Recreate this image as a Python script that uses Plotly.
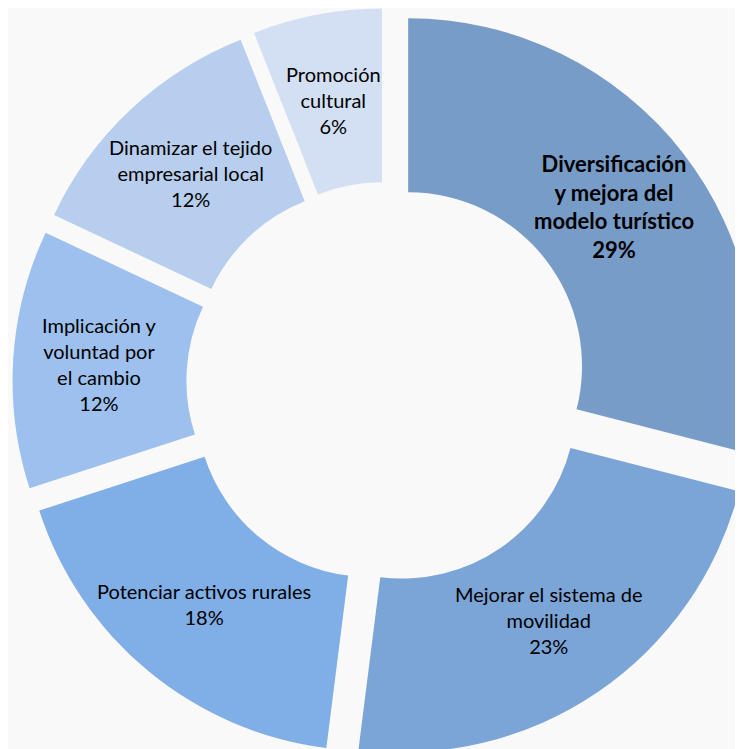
import numpy as np
import plotly.graph_objects as go

labels = [
    "Diversificación y mejora del modelo turístico",
    "Mejorar el sistema de movilidad",
    "Potenciar activos rurales",
    "Implicación y voluntad por el cambio",
    "Dinamizar el tejido empresarial local",
    "Promoción cultural",
]
label_lines = [
    "Diversificación<br>y mejora del<br>modelo turístico",
    "Mejorar el sistema de<br>movilidad",
    "Potenciar activos rurales",
    "Implicación y<br>voluntad por<br>el cambio",
    "Dinamizar el tejido<br>empresarial local",
    "Promoción<br>cultural",
]
values = [29, 23, 18, 12, 12, 6]
colors = ["#779CC8", "#7BA4D7", "#80AEE7", "#9DC0EE", "#B8CEEE", "#D3E0F4"]

# geometry of the layout
W, H = 760, 760
M = dict(l=4, r=6, t=0, b=11)
HOLE, PULL = 0.5, 0.077
pw, ph = W - M["l"] - M["r"], H - M["t"] - M["b"]
R = min(pw, ph) / 2 / (1 + PULL)
r_text = R * (1 + HOLE) / 2 + R * PULL

fig = go.Figure(go.Pie(
    labels=labels,
    values=values,
    textinfo="none",
    marker=dict(colors=colors, line=dict(width=0)),
    hole=HOLE,
    pull=PULL,
    sort=False,
    direction="clockwise",
    rotation=0,
    showlegend=False,
    hoverinfo="label+percent",
))

# slice labels at the middle of each (pulled) ring section
total = sum(values)
cum = np.cumsum([0] + values)
for i, (txt, v) in enumerate(zip(label_lines, values)):
    theta = 2 * np.pi * (cum[i] + v / 2) / total
    pct = f"{round(100 * v / total)}%"
    text = f"{txt}<br>{pct}"
    bold = i == 0
    if bold:
        text = f"<b>{text}</b>"
    fig.add_annotation(
        x=0.5 + r_text * np.sin(theta) / pw,
        y=0.5 + r_text * np.cos(theta) / ph,
        xref="paper", yref="paper",
        xanchor="center", yanchor="middle",
        text=text,
        showarrow=False,
        align="center",
        font=dict(family="Lato", size=22 if bold else 20, color="#000000"),
    )

fig.update_layout(
    width=W,
    height=H,
    margin=M,
    paper_bgcolor="#F9F9F9",
    plot_bgcolor="#F9F9F9",
)

fig.write_html("out.html")
